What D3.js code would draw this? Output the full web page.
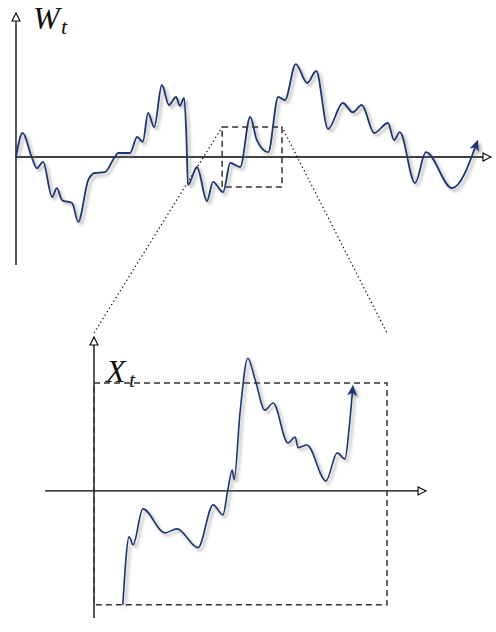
<!DOCTYPE html>
<html><head><meta charset="utf-8">
<script src="https://cdn.jsdelivr.net/npm/d3@7"></script>
<style>html,body{margin:0;padding:0;background:#fff;}svg{display:block;}</style>
</head><body>
<svg id="c" width="496" height="632"></svg>
<script>
// Top process W_t (time, value)
const topT = [0,0.14,0.33,0.44,0.57,0.76,0.86,0.97,1.18,1.31,1.52,1.66,1.87,2.08,2.15,2.40,2.55,2.67,2.78,2.91,3.07,3.22,3.37,3.45,3.54,3.59,3.62,3.81,4.02,4.15,4.36,4.51,4.72,4.93,5.07,5.31,5.52,5.66,5.89,6.13,6.32,6.57,6.88,7.09,7.28,7.54,7.83,7.96,8.08,8.40,8.63,9.18,9.71];
const topW = [0,0.6,0,-0.28,-0.12,-1.0,-0.78,-1.08,-1.15,-1.62,-0.58,-0.4,-0.38,0,0.1,0.1,0.5,0.38,1.1,0.75,1.8,1.3,1.5,1.28,1.48,0.42,-0.7,-0.25,-1.1,-0.62,-0.88,-0.15,-0.25,1.0,0.42,0.12,1.5,1.42,2.32,1.85,2.15,0.7,1.35,1.12,1.3,0.6,0.85,0.42,0.62,-0.65,0.12,-0.78,0.38];
// Zoomed process X_t
const botT = [0.59,0.72,0.80,1.00,1.45,1.70,2.13,2.44,2.64,2.74,2.83,2.87,2.99,3.15,3.30,3.50,3.67,3.97,4.12,4.18,4.36,4.75,4.98,5.14,5.22,5.30];
const botX = [-2.85,-1.15,-1.35,-0.45,-1.05,-0.95,-1.42,-0.35,-0.6,0.02,0.52,0.28,1.95,3.32,2.78,2.02,2.2,1.2,1.35,1.08,1.15,0.25,0.95,0.8,1.52,2.6];
// zoom window in top chart (t range, W range) and its image in bottom chart
const zoomT = [4.34, 5.6], zoomW = [-0.75, 0.75];
const boxT = [0, 6.0], boxX = [-2.85, 2.7];
const labels = {top: ["W", "t"], bottom: ["X", "t"]};

const svg = d3.select("#c");
const navy = "#1b3670";
const defs = svg.append("defs");
const f = defs.append("filter").attr("id","sh").attr("x","-10%").attr("y","-10%").attr("width","130%").attr("height","130%");
f.append("feDropShadow").attr("dx",2.5).attr("dy",2.5).attr("stdDeviation",1.8).attr("flood-color","#777").attr("flood-opacity",0.65);
defs.append("marker").attr("id","head").attr("viewBox","0 0 10 10").attr("refX",8).attr("refY",5)
  .attr("markerWidth",11).attr("markerHeight",11).attr("markerUnits","userSpaceOnUse").attr("orient","auto")
  .append("path").attr("d","M0,0.5 L10,5 L0,9.5 L2.5,5 Z").attr("fill",navy);
defs.append("marker").attr("id","open").attr("viewBox","0 0 10 10").attr("refX",9).attr("refY",5)
  .attr("markerWidth",10).attr("markerHeight",10).attr("markerUnits","userSpaceOnUse").attr("orient","auto")
  .append("path").attr("d","M1,1 L9,5 L1,9 Z").attr("fill","#fff").attr("stroke","#000").attr("stroke-width",1.1);

// scales
const xT = d3.scaleLinear().domain([0,10]).range([16,491]);
const yT = d3.scaleLinear().domain([-2.7,3.6]).range([265,13]);
const xB = d3.scaleLinear().domain([0,6]).range([94,387]);
const yB = d3.scaleLinear().domain([-3.18,3.7]).range([618,343]);

function axes(g, x, y, x0, x1, y0, y1){
  g.append("line").attr("x1",x(x0)).attr("x2",x(x1)).attr("y1",y(0)).attr("y2",y(0))
    .attr("stroke","#000").attr("stroke-width",1.3).attr("marker-end","url(#open)");
  g.append("line").attr("x1",x(0)).attr("x2",x(0)).attr("y1",y(y0)).attr("y2",y(y1))
    .attr("stroke","#000").attr("stroke-width",1.3).attr("marker-end","url(#open)");
}

// dotted connector lines
const conn = svg.append("g").attr("stroke","#111").attr("stroke-width",1.4).attr("stroke-dasharray","0.1 4").attr("stroke-linecap","round").attr("fill","none");
conn.append("line").attr("x1",xT(zoomT[0])).attr("y1",yT(zoomW[1])).attr("x2",xB(boxT[0])).attr("y2",yB(3.95));
conn.append("line").attr("x1",xT(zoomT[1])).attr("y1",yT(zoomW[1])).attr("x2",xB(boxT[1])).attr("y2",yB(3.95));

function label(g, x, y, parts, subDx){
  g.append("text").attr("x",x).attr("y",y).attr("font-family","'Liberation Serif', serif").attr("font-style","italic")
    .attr("font-size",32).attr("fill","#111").text(parts[0]);
  g.append("text").attr("x",x+subDx).attr("y",y+5).attr("font-family","'Liberation Serif', serif").attr("font-style","italic")
    .attr("font-size",22).attr("fill","#111").text(parts[1]);
}

// Top chart
const gT = svg.append("g");
axes(gT, xT, yT, 0, 10, -2.7, 3.6);
const lineT = d3.line().x((d,i)=>xT(topT[i])).y(d=>yT(d)).curve(d3.curveMonotoneX);
gT.append("path").datum(topW).attr("d",lineT).attr("fill","none").attr("stroke",navy).attr("stroke-width",1.8)
  .attr("filter","url(#sh)").attr("marker-end","url(#head)");
gT.append("rect").attr("x",xT(zoomT[0])).attr("y",yT(zoomW[1])).attr("width",xT(zoomT[1])-xT(zoomT[0])).attr("height",yT(zoomW[0])-yT(zoomW[1]))
  .attr("fill","none").attr("stroke","#333").attr("stroke-width",1.5).attr("stroke-dasharray","6 4");
label(gT, 33, 29, labels.top, 28);

// Bottom chart
const gB = svg.append("g");
axes(gB, xB, yB, -1.0, 6.8, -3.18, 3.85);
gB.append("rect").attr("x",xB(boxT[0])).attr("y",yB(boxX[1])).attr("width",xB(boxT[1])-xB(boxT[0])).attr("height",yB(boxX[0])-yB(boxX[1]))
  .attr("fill","none").attr("stroke","#333").attr("stroke-width",1.5).attr("stroke-dasharray","6 4");
const lineB = d3.line().x((d,i)=>xB(botT[i])).y(d=>yB(d)).curve(d3.curveMonotoneX);
gB.append("path").datum(botX).attr("d",lineB).attr("fill","none").attr("stroke",navy).attr("stroke-width",1.6)
  .attr("filter","url(#sh)").attr("marker-end","url(#head)");
label(gB, 106, 382, labels.bottom, 23);
</script>
</body></html>
